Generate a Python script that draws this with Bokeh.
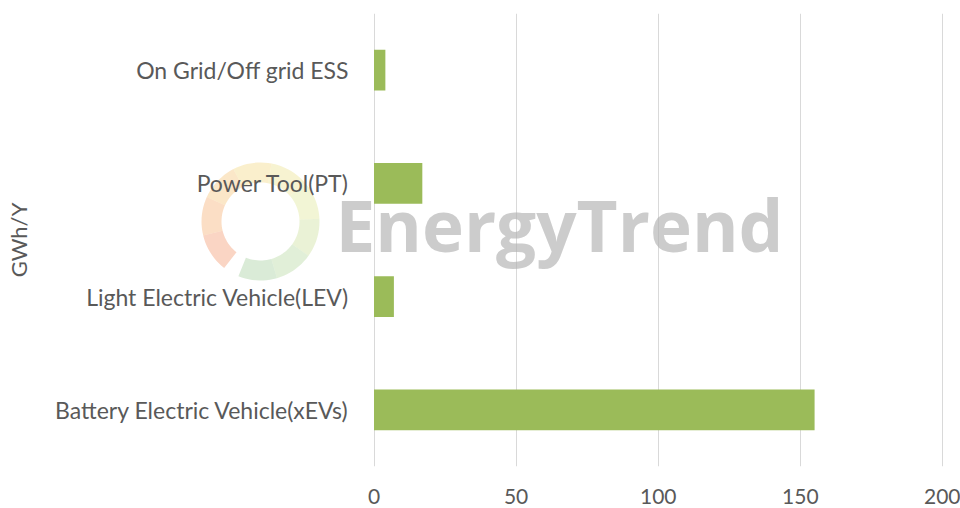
import numpy as np
from bokeh.plotting import figure
from bokeh.models import FactorRange, Range1d, FixedTicker, Label, PolyAnnotation, ColumnDataSource
from bokeh.embed import file_html
from bokeh.resources import INLINE

# ---- data ----
categories = ["Battery Electric Vehicle(xEVs)", "Light Electric Vehicle(LEV)",
              "Power Tool(PT)", "On Grid/Off grid ESS"]
values = [155, 7, 17, 4]
x_ticks = [0, 50, 100, 150, 200]
y_title = "GWh/Y"
watermark_text = "EnergyTrend"

# ---- layout (pixels) ----
W, H = 960, 508
ZERO_PX, TWO_HUNDRED_PX = 373.5, 942.0
FRAME_TOP, FRAME_BOTTOM = 13, 466
PPU_X = (TWO_HUNDRED_PX - ZERO_PX) / 200.0
PPU_Y = (FRAME_BOTTOM - FRAME_TOP) / len(categories)
X_START = -ZERO_PX / PPU_X
X_END = (W - ZERO_PX) / PPU_X


def dx(px):
    return (px - ZERO_PX) / PPU_X


def dy(py):
    return (FRAME_BOTTOM - py) / PPU_Y


TXT = "#595959"
FONT = "Lato"

src = ColumnDataSource(dict(cat=categories, val=values))

p = figure(width=W, height=H,
           y_range=FactorRange(factors=categories, range_padding=0),
           x_range=Range1d(X_START, X_END),
           output_backend="svg", toolbar_location=None,
           min_border_left=0, min_border_right=0,
           min_border_top=FRAME_TOP, min_border_bottom=H - FRAME_BOTTOM)

p.outline_line_color = None
p.background_fill_color = "white"
p.border_fill_color = "white"

# watermark logo (decorative ring)
cx, cy, r_out, r_in = 260, 221, 59, 39
ring_cols = ["#f4a27c", "#f6b57e", "#f6c985", "#f3dc8e", "#eee59a",
             "#e2e8a2", "#d0e3a4", "#bcdba8", "#acd3a6"]
a0, a1 = np.deg2rad(232), np.deg2rad(-112)
edges = np.linspace(a0, a1, len(ring_cols) + 1)
for i, c in enumerate(ring_cols):
    t = np.linspace(edges[i], edges[i + 1], 12)
    px = list(cx + r_out * np.cos(t)) + list(cx + r_in * np.cos(t[::-1]))
    py = list(cy - r_out * np.sin(t)) + list(cy - r_in * np.sin(t[::-1]))
    p.add_layout(PolyAnnotation(xs=[dx(v) for v in px], ys=[dy(v) for v in py],
                                fill_color=c, fill_alpha=0.45, line_color=None,
                                level="underlay"))

p.hbar(y="cat", right="val", height=0.36, source=src,
       fill_color="#9bbb59", line_color=None)

p.add_layout(Label(x=dx(335), y=dy(224),
                   text=watermark_text, text_font="Open Sans", text_font_size="71px",
                   text_font_style="bold", text_color="#b0b0b0", text_alpha=0.65,
                   text_baseline="alphabetic"))

# x axis
p.xaxis.ticker = FixedTicker(ticks=x_ticks)
p.xaxis.axis_line_color = None
p.xaxis.major_tick_line_color = None
p.xaxis.minor_tick_line_color = None
p.xaxis.major_label_text_font = FONT
p.xaxis.major_label_text_font_size = "21px"
p.xaxis.major_label_text_color = TXT
p.xaxis.major_label_standoff = 16

# y axis, pinned at x = 0
p.yaxis.fixed_location = 0
p.yaxis.axis_line_color = None
p.yaxis.major_tick_line_color = None
p.yaxis.minor_tick_line_color = None
p.yaxis.major_label_text_font = FONT
p.yaxis.major_label_text_font_size = "23px"
p.yaxis.major_label_text_color = TXT
p.yaxis.major_label_standoff = 19
p.yaxis.axis_label = y_title
p.yaxis.axis_label_text_font = FONT
p.yaxis.axis_label_text_font_size = "22px"
p.yaxis.axis_label_text_font_style = "normal"
p.yaxis.axis_label_text_color = TXT
p.yaxis.axis_label_standoff = 21

# grid
p.ygrid.grid_line_color = None
p.xgrid.ticker = FixedTicker(ticks=x_ticks)
p.xgrid.grid_line_color = "#d9d9d9"
p.xgrid.grid_line_width = 1

open("out.html", "w").write(file_html(p, INLINE))
